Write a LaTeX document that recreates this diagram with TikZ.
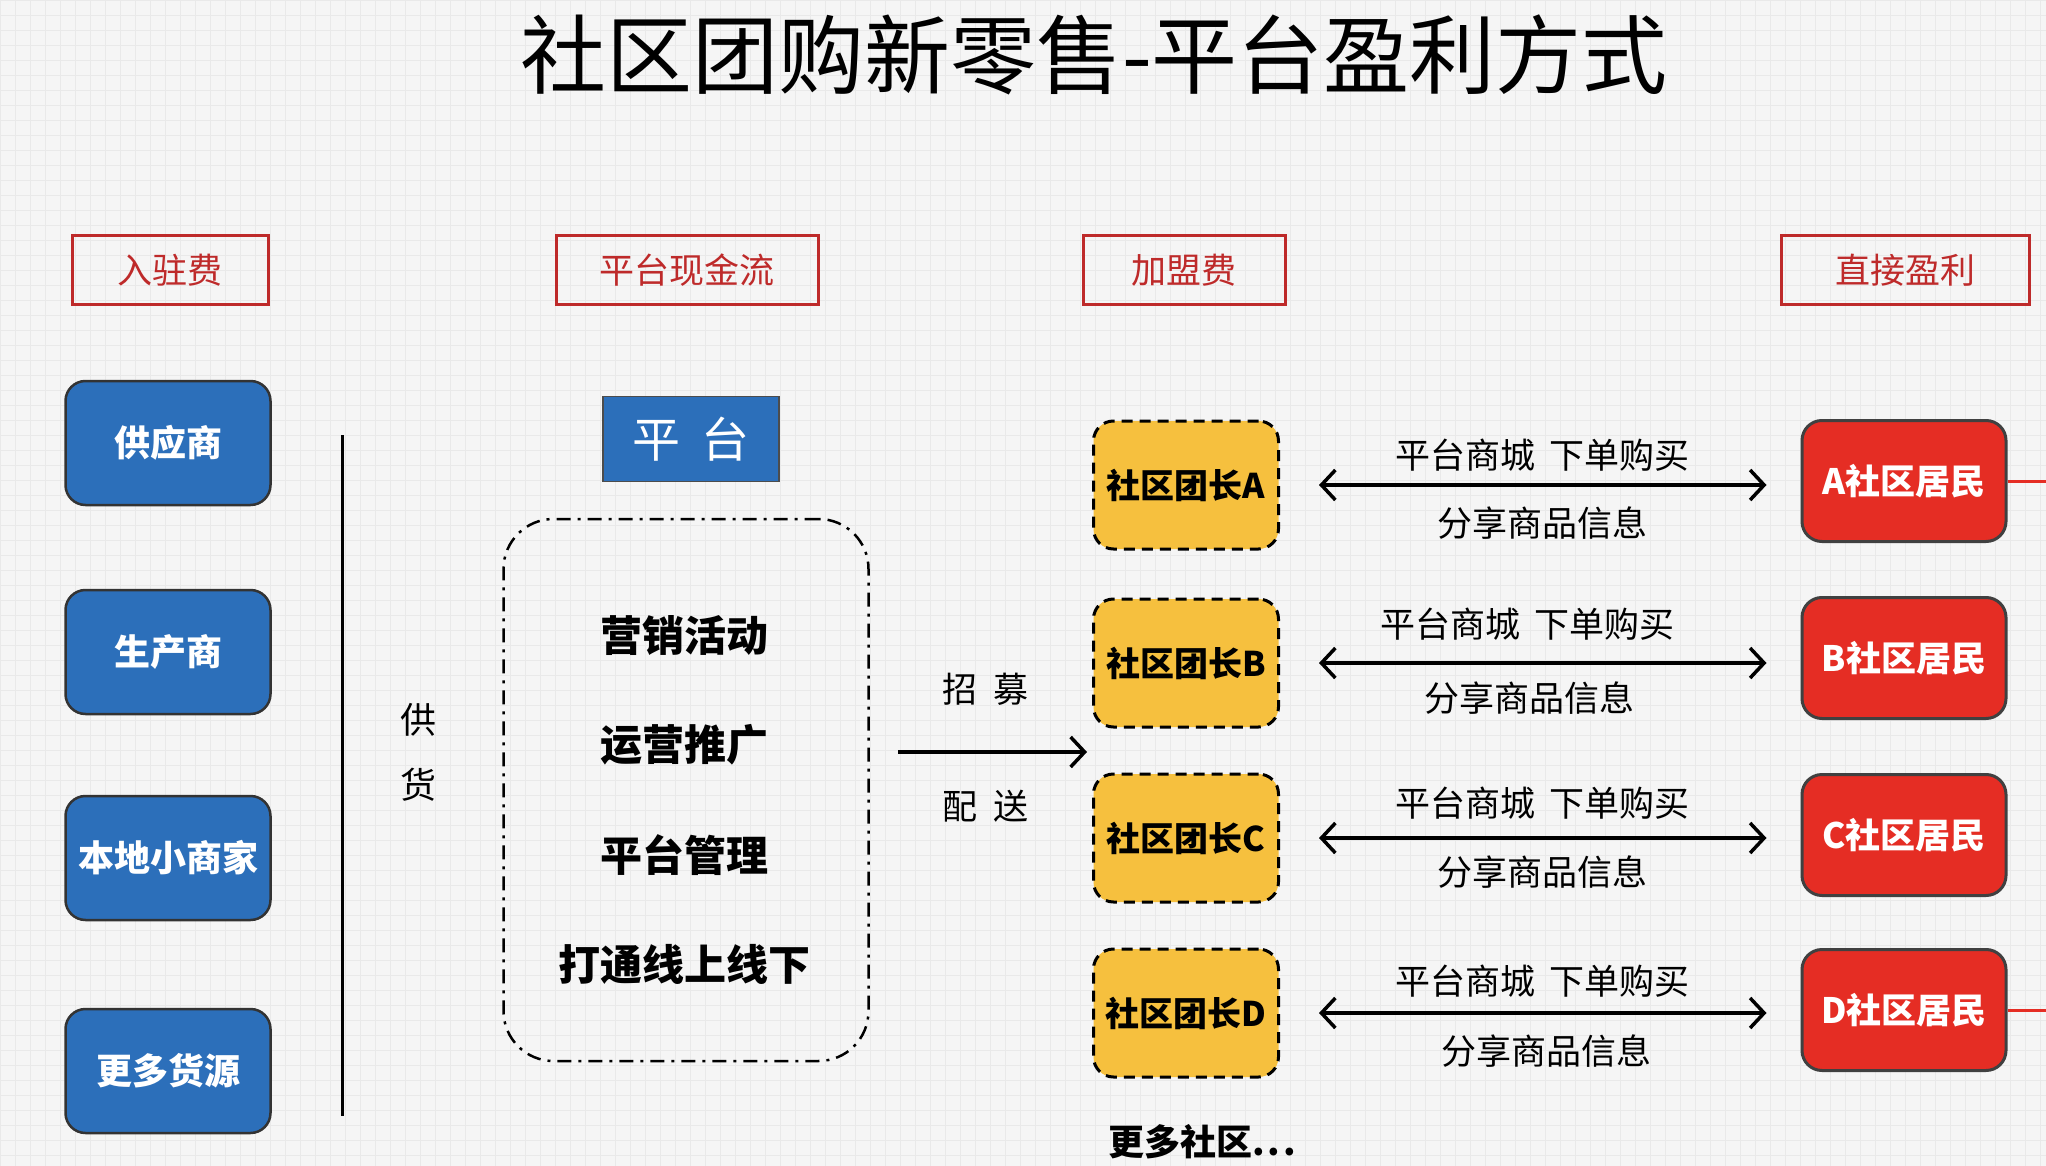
\documentclass[tikz,border=0pt]{standalone}
\usepackage{fontspec}
\setmainfont{Noto Sans CJK SC}
\usetikzlibrary{arrows.meta,positioning}
\definecolor{hdrred}{RGB}{190,42,42}
\definecolor{boxblue}{RGB}{44,111,186}
\definecolor{leadyel}{RGB}{246,192,62}
\definecolor{resred}{RGB}{229,45,36}
\definecolor{bggray}{RGB}{245,245,245}
\definecolor{gridgray}{RGB}{233,233,233}
\newcommand{\fs}[1]{\fontsize{#1}{#1}\selectfont}

\begin{document}
\begin{tikzpicture}[x=1pt,y=-1pt]
\tikzstyle{hdr}=[draw=hdrred,line width=3pt,text=hdrred,minimum height=69pt,inner sep=0pt,font=\fs{35}]
\tikzstyle{src}=[draw=black!80,line width=2.5pt,fill=boxblue,rounded corners=20pt,minimum width=205pt,minimum height=124pt,inner sep=0pt,text=white,font=\bfseries\fs{36}]
\tikzstyle{lead}=[draw,line width=3pt,dash pattern=on 11pt off 7pt,fill=leadyel,rounded corners=20pt,minimum width=185pt,minimum height=128pt,inner sep=0pt,font=\bfseries\fs{34}]
\tikzstyle{res}=[draw=black!75,line width=3pt,fill=resred,rounded corners=20pt,minimum width=204pt,minimum height=121pt,inner sep=0pt,text=white,font=\bfseries\fs{35}]
\tikzstyle{item}=[font=\bfseries\fs{42}]
\tikzstyle{lbl}=[font=\fs{35}]
\tikzstyle{dbl}=[line width=3.5pt,{Straight Barb[length=14pt,width=30pt]}-{Straight Barb[length=14pt,width=30pt]},shorten <=39pt,shorten >=34pt]

   % background and grid
   \useasboundingbox (0,0) rectangle (2046,1166);
   \fill [bggray] (0,0) rectangle (2046,1166);
   \foreach \gx in {0,15,...,2046} \draw [gridgray,line width=0.6pt] (\gx,0) -- (\gx,1166);
   \foreach \gy in {0,15,...,1166} \draw [gridgray,line width=0.6pt] (0,\gy) -- (2046,\gy);

   \node (title) at (1094,55) [font=\fs{86}] {社区团购新零售-平台盈利方式};

   % fees
   \node (f1) at (170,270) [hdr,minimum width=196pt] {入驻费};
   \node (f2) at (687,270) [hdr,minimum width=262pt] {平台现金流};
   \node (f3) at (1184,270) [hdr,minimum width=202pt] {加盟费};
   \node (f4) at (1905,270) [hdr,minimum width=248pt] {直接盈利};

   % sources
   \node (s1) at (168,443) [src] {供应商};
   \node (s2) at (168,652) [src] {生产商};
   \node (s3) at (168,858) [src] {本地小商家};
   \node (s4) at (168,1071) [src] {更多货源};

   \coordinate (v0) at (342,435);
   \coordinate (v1) at (342,1116);
   \path [draw,line width=3pt] (v0) -- (v1);
   \node (supply) at (418,752) [align=center,font={\fontsize{36}{65}\selectfont}] {供\\货};

   % platform
   \node (plat) at (691,439) [draw=black!70,line width=1.5pt,fill=boxblue,minimum width=176pt,minimum height=85pt,text=white,font=\fs{48}] {平\hspace{22pt}台};
   \node (core) at (686,790) [draw,line width=2.5pt,rounded corners=50pt,dash pattern=on 14pt off 7pt on 3pt off 7pt,minimum width=365pt,minimum height=542pt] {};
   \node (t1) at (684,636) [item] {营销活动};
   \node (t2) at (684,745) [item] {运营推广};
   \node (t3) at (684,855) [item] {平台管理};
   \node (t4) at (684,964) [item] {打通线上线下};

   \coordinate (r0) at (898,752);
   \coordinate (r1) at (1087,752);
   \path [draw,line width=3.5pt,-{Straight Barb[length=14pt,width=30pt]}] (r0) -- (r1);
   \node (recruit) at (985,689) [lbl] {招\hspace{16pt}募};
   \node (deliver) at (985,806) [lbl] {配\hspace{16pt}送};

   % leaders
   \node (lA) at (1186,485) [lead] {社区团长A};
   \node (lB) at (1186,663) [lead] {社区团长B};
   \node (lC) at (1186,838) [lead] {社区团长C};
   \node (lD) at (1186,1013) [lead] {社区团长D};
   \node (more) at (1202,1142) [font=\bfseries\fs{36}] {更多社区.\hspace{3pt}.\hspace{3pt}.};

   % residents
   \node (rA) at (1904,481) [res] {A社区居民};
   \node (rB) at (1904,658) [res] {B社区居民};
   \node (rC) at (1904,835) [res] {C社区居民};
   \node (rD) at (1904,1010) [res] {D社区居民};

   \coordinate (eA) at (2046,481);
   \coordinate (eD) at (2046,1010);
   \path [draw,resred,line width=3pt] (rA) -- (eA);
   \path [draw,resred,line width=3pt] (rD) -- (eD);

   \path [draw,dbl] (lA.east) -- (lA.east -| rA.west);
   \path [draw,dbl] (lB.east) -- (lB.east -| rB.west);
   \path [draw,dbl] (lC.east) -- (lC.east -| rC.west);
   \path [draw,dbl] (lD.east) -- (lD.east -| rD.west);

   \node (uA) at (1542,455) [lbl] {平台商城\hspace{14pt}下单购买};
   \node (dA) at (1542,523) [lbl] {分享商品信息};
   \node (uB) at (1527,624) [lbl] {平台商城\hspace{14pt}下单购买};
   \node (dB) at (1529,698) [lbl] {分享商品信息};
   \node (uC) at (1542,803) [lbl] {平台商城\hspace{14pt}下单购买};
   \node (dC) at (1542,872) [lbl] {分享商品信息};
   \node (uD) at (1542,981) [lbl] {平台商城\hspace{14pt}下单购买};
   \node (dD) at (1546,1051) [lbl] {分享商品信息};
\end{tikzpicture}
\end{document}
